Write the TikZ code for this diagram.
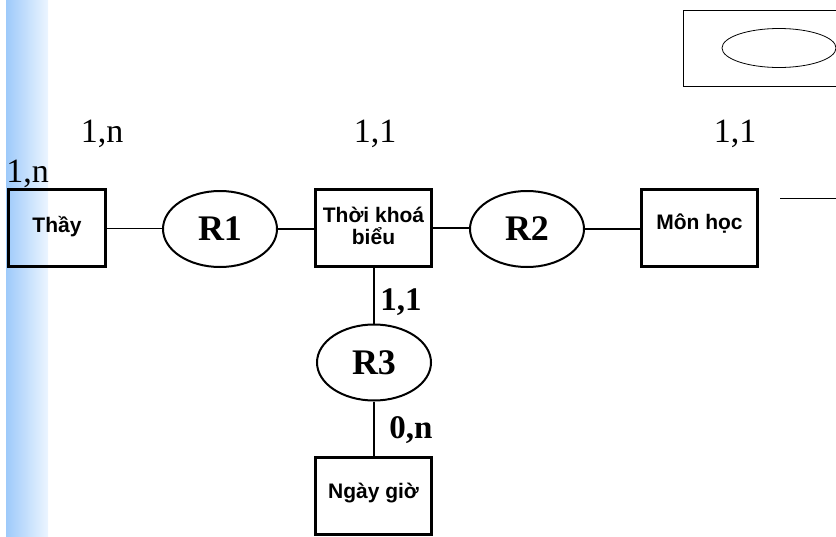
\documentclass[tikz,border=0pt]{standalone}
\usepackage{fontspec}
\setmainfont{Liberation Serif}
\newfontfamily\entfont{Liberation Sans}
\usetikzlibrary{shapes.geometric}

\definecolor{barblue}{RGB}{158,202,250}
\definecolor{barwhite}{RGB}{236,245,255}

\begin{document}
\begin{tikzpicture}[x=1pt,y=-1pt,
  entity/.style={draw, line width=3pt, minimum width=116pt, minimum height=77pt,
    inner sep=0pt, align=center, text height=16pt, text depth=10pt,
    font=\entfont\bfseries\fontsize{21}{22}\selectfont},
  relation/.style={draw, ellipse, line width=2pt, minimum width=114pt,
    minimum height=76pt, inner sep=0pt, font=\bfseries\fontsize{36}{40}\selectfont},
  card/.style={anchor=base, inner sep=0pt, font=\fontsize{34}{38}\selectfont},
  bcard/.style={card, font=\bfseries\fontsize{33}{38}\selectfont},
  link/.style={line width=2pt},
  thinlink/.style={line width=0.9pt}]

  \useasboundingbox (0,0) rectangle (836,536);

  % side bar
  \shade[left color=barblue, right color=barwhite] (6,0) rectangle (48,536);

  % legend box
  \node[draw, line width=0.8pt, minimum width=167pt, minimum height=76pt] (legend) at (766.5,48) {};
  \node[draw, ellipse, line width=0.8pt, minimum width=114pt, minimum height=39pt, inner sep=0pt] (legendshape) at (779,48) {};

  % entities
  \node[entity, minimum width=97pt, text depth=8pt] (thay) at (57,228) {Thầy};
  \node[entity, text height=38pt, text depth=6pt] (tkb) at (373.5,228) {Thời khoá\\biểu};
  \node[entity, text depth=14pt] (mon) at (699.5,228) {Môn học};
  \node[entity] (ngay) at (373.5,495.5) {Ngày giờ};

  % relations
  \node[relation] (r1) at (220,229) {R1};
  \node[relation] (r2) at (527,229) {R2};
  \node[relation] (r3) at (374,362.5) {R3};

  \draw[thinlink] (thay.east) -- (thay.east -| r1.west);
  \draw[link] (r1.east) -- (r1.east -| tkb.west);
  \draw[link] (tkb.east) -- (tkb.east -| r2.west);
  \draw[link] (r2.east) -- (r2.east -| mon.west);
  \draw[link] (tkb.south) -- (tkb.south |- r3.north);
  \draw[link] (r3.south) -- (r3.south |- ngay.north);

  \coordinate (stub) at (780,198);
  \coordinate (stubend) at (836,198);
  \draw[thinlink] (stub) -- (stubend);

  % cardinalities
  \node[card] (c1) at (102,142) {1,n};
  \node[card] (c2) at (375,142) {1,1};
  \node[card] (c3) at (735,142) {1,1};
  \node[card] (c4) at (27.5,182) {1,n};
  \node[bcard] (c5) at (401,310) {1,1};
  \node[bcard] (c6) at (411,438) {0,n};

\end{tikzpicture}
\end{document}
